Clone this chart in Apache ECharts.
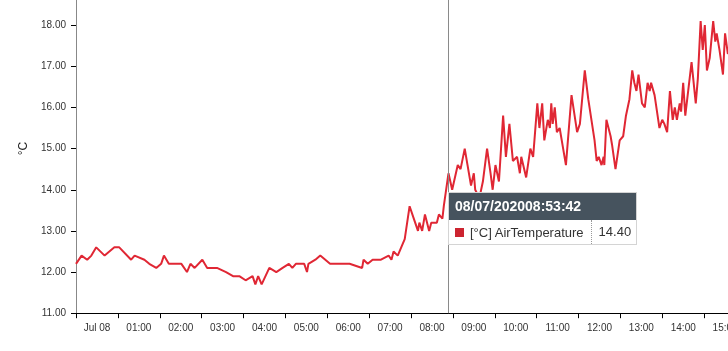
<!DOCTYPE html>
<html>
<head>
<meta charset="utf-8">
<script src="https://cdn.jsdelivr.net/npm/echarts@6/dist/echarts.min.js"></script>
<style>
html,body{margin:0;padding:0;overflow:hidden;width:728px;height:351px;background:#fff;}
#chart{width:800px;height:351px;}
</style>
</head>
<body>
<div id="chart"></div>
<script>
// Time of each reading (Jul 08) and air temperature in °C
const times = [
"00:00","00:08","00:16","00:22","00:29","00:41","00:55","01:02","01:19","01:24",
"01:38","01:45","01:55","02:02","02:06","02:13","02:31","02:39","02:44","02:50",
"03:01","03:08","03:22","03:35","03:45","03:54","04:03","04:13","04:17","04:21",
"04:26","04:37","04:47","04:56","05:05","05:10","05:15","05:27","05:31","05:33",
"05:43","05:50","06:04","06:32","06:50","06:52","06:58","07:05","07:17","07:28",
"07:32","07:35","07:41","07:46","07:51","07:58","08:04","08:10","08:12","08:16",
"08:20","08:26","08:29","08:37","08:40","08:45","08:47","08:53:42","08:59","09:07",
"09:11","09:17","09:21","09:26","09:30","09:32","09:38","09:43","09:49","09:54",
"09:57","10:01","10:06","10:12","10:16","10:21","10:26","10:32","10:36","10:38",
"10:45","10:51","10:55","11:01","11:04","11:08","11:11","11:16","11:19","11:21",
"11:23","11:26","11:29","11:33","11:38","11:42","11:50","11:58","12:02","12:09",
"12:14","12:23","12:26","12:29","12:33","12:36","12:37","12:40","12:46","12:48",
"12:53","12:59","13:04","13:08","13:13","13:17","13:20","13:23","13:26","13:31",
"13:35","13:39","13:42","13:44","13:49","13:56","14:00","14:03","14:07","14:11",
"14:15","14:18","14:21","14:25","14:27","14:30","14:33","14:42","14:48","14:51",
"14:55","14:58","15:01","15:04","15:08","15:13","15:16","15:18","15:22","15:27",
"15:30","15:34","15:40"
];
const temps = [
12.2,12.4,12.3,12.4,12.6,12.4,12.6,12.6,12.3,12.4,
12.3,12.2,12.1,12.2,12.4,12.2,12.2,12.0,12.2,12.1,
12.3,12.1,12.1,12.0,11.9,11.9,11.8,11.9,11.7,11.9,
11.7,12.1,12.0,12.1,12.2,12.1,12.2,12.2,12.0,12.2,
12.3,12.4,12.2,12.2,12.1,12.3,12.2,12.3,12.3,12.4,
12.3,12.5,12.4,12.6,12.8,13.6,13.3,13.0,13.2,13.0,
13.4,13.0,13.2,13.2,13.4,13.3,13.6,14.4,14.0,14.6,
14.5,15.0,14.6,14.1,14.4,14.0,13.8,14.2,15.0,14.4,
14.0,14.6,14.2,15.8,14.8,15.6,14.7,14.8,14.4,14.8,
14.3,15.0,14.8,16.1,15.5,16.1,15.2,15.7,15.5,16.1,
15.6,16.0,15.4,15.5,15.0,14.6,16.3,15.4,15.6,16.9,
16.2,15.2,14.7,14.8,14.6,14.8,14.6,15.7,15.3,15.1,
14.5,15.2,15.3,15.8,16.2,16.9,16.6,16.4,16.8,16.1,
16.0,16.6,16.4,16.6,16.3,15.5,15.7,15.6,15.4,16.4,
15.7,16.0,15.7,16.1,15.9,16.6,15.8,17.1,16.1,16.7,
18.1,17.4,18.0,16.9,17.2,18.1,17.6,17.8,17.4,16.8,
17.8,17.3,17.5
];
const xTickLabels = ["Jul 08","01:00","02:00","03:00","04:00","05:00","06:00","07:00","08:00",
"09:00","10:00","11:00","12:00","13:00","14:00","15:00","16:00"];
const seriesName = "[°C] AirTemperature";
const tooltipTitle = "08/07/202008:53:42";
const tooltipTime = "08:53:42";

function toHours(s){
  const p = s.split(":").map(Number);
  return p[0] + p[1]/60 + (p[2]||0)/3600;
}
const data = times.map((t,i)=>[toHours(t), temps[i]]);
const lineColor = "#cc2430";
const FONT = "'Liberation Sans', Arial, sans-serif";

const chart = echarts.init(document.getElementById('chart'), null, {renderer:'canvas'});
chart.setOption({
  animation:false,
  textStyle:{fontFamily:FONT},
  grid:{left:76, width:670, top:-16, height:329.2, containLabel:false, outerBoundsMode:'none'},
  xAxis:{
    type:'value', min:0, max:16, interval:1,
    axisLine:{show:true, lineStyle:{color:'#000', width:1}},
    axisTick:{show:true, length:5, lineStyle:{color:'#000'}},
    splitLine:{show:false},
    axisLabel:{
      fontSize:10, color:'#333', fontFamily:FONT, margin:10,
      padding:[0,0,0,42], hideOverlap:false,
      formatter:function(v){ return xTickLabels[Math.round(v)] || ''; }
    }
  },
  yAxis:{
    type:'value', min:11, max:19, interval:1,
    name:'°C', nameLocation:'middle', nameRotate:90, nameGap:46,
    nameTextStyle:{fontSize:12, color:'#222', fontFamily:FONT},
    axisLine:{show:true, lineStyle:{color:'#888', width:1}},
    axisTick:{show:true, length:5, lineStyle:{color:'#000'}},
    splitLine:{show:false},
    axisLabel:{fontSize:10, color:'#333', fontFamily:FONT, margin:10,
      formatter:function(v){ return v.toFixed(2); }}
  },
  tooltip:{
    trigger:'axis', triggerOn:'none', alwaysShowContent:true,
    position:[448,192], padding:0, borderWidth:1, borderColor:'#d4d4d4',
    backgroundColor:'#fff', transitionDuration:0,
    extraCssText:'box-shadow:none;border-radius:0;',
    axisPointer:{type:'line', lineStyle:{color:'#8a8a8a', width:1, type:'solid'}, label:{show:false}},
    formatter:function(params){
      const p = params[0];
      const v = p.value[1].toFixed(2);
      return '<div style="font-family:'+FONT.replace(/'/g,'')+';line-height:normal">'+
        '<div style="background:#46535e;color:#fff;font-weight:bold;font-size:14px;height:27px;line-height:27px;padding:0 6px;">'+tooltipTitle+'</div>'+
        '<div style="display:flex;align-items:center;height:24px;font-size:13px;color:#333;">'+
          '<span style="display:inline-block;width:9px;height:9px;background:'+lineColor+';margin:0 6px 0 6px;"></span>'+
          '<span style="padding-right:7px;white-space:nowrap">'+seriesName+'</span>'+
          '<span style="border-left:1px dotted #999;height:24px;line-height:24px;padding:0 5px 0 7px;">'+v+'</span>'+
        '</div></div>';
    }
  },
  series:[{
    name:seriesName, type:'line', data:data, showSymbol:false, symbol:'none',
    lineStyle:{color:lineColor, width:2}, itemStyle:{color:lineColor},
    clip:true
  }]
});
const idx = times.indexOf(tooltipTime);
chart.dispatchAction({type:'showTip', seriesIndex:0, dataIndex:idx});
</script>
</body>
</html>
